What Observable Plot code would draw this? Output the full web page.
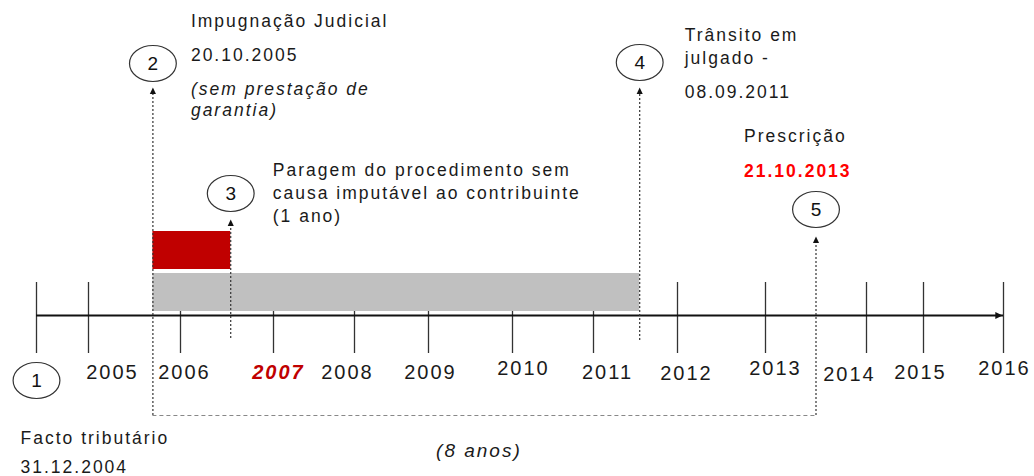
<!DOCTYPE html>
<html>
<head>
<meta charset="utf-8">
<script src="https://cdn.jsdelivr.net/npm/d3@7"></script>
<script src="https://cdn.jsdelivr.net/npm/@observablehq/plot@0.6"></script>
<style>
  html, body { margin: 0; padding: 0; background: #fff; }
  #chart svg { display: block; }
</style>
</head>
<body>
<div id="chart"></div>
<script>
// ---------------- data ----------------
const tickYears  = [2004, 2005, 2006, 2007, 2008, 2009, 2010, 2011, 2012, 2013, 2014, 2015, 2016];
const tickLabels = ["", "2005", "2006", "2007", "2008", "2009", "2010", "2011", "2012", "2013", "2014", "2015", "2016"];
const highlightLabel = "2007";

const eventNumbers = ["1", "2", "3", "4", "5"];
const eventYears   = [2004, 2005.7, 2006.54, 2011.55, 2013.5];

const periodNames = ["Processo judicial", "Paragem (1 ano)"];
const periodStart = [2005.7, 2005.7];
const periodEnd   = [2011.55, 2006.54];

const noteTexts = [
  "Facto tributário", "31.12.2004",
  "Impugnação Judicial", "20.10.2005", "(sem prestação de", "garantia)",
  "Paragem do procedimento sem", "causa imputável ao contribuinte", "(1 ano)",
  "Trânsito em", "julgado -", "08.09.2011",
  "Prescrição", "21.10.2013"
];
const noteEvent = [0, 0, 1, 1, 1, 1, 2, 2, 2, 3, 3, 3, 4, 4];
const noteKind  = ["n", "n", "n", "n", "i", "i", "n", "n", "n", "n", "n", "n", "n", "b"];
const spanLabel = "(8 anos)";

// ---------------- layout (picture's uneven axis & placement) ----------------
const tickPx     = [36, 88, 180, 273, 354, 428, 512, 593, 677, 765, 866, 923, 1003];
const labelDx    = [0, 24, 4, 5, -7, 2, 11, 14, 9, 10, -17, -3, 1];
const labelDy    = [0, 0, 0, 0, 0, 0, -4, 0, 1, -4, 2, 0, -4];
const circleY    = [-65, 252, 122, 253, 106];
const arrowTipY  = [null, 228, 96, 228, 79];
const dashBottom = [null, -100, -23, -25, -100];
const eventDx    = [-16, 38, 42, 45, -72];
const noteY      = [-128, -157, 289, 255, 221, 200, 140, 117, 94, 275, 252, 218, 174, 139];
const periodBand = [[4, 42], [46, 84]];
const periodFill = ["#c0c0c0", "#c00000"];

// ---------------- symbols ----------------
const ellipse = {
  draw(ctx, size) {
    const r = Math.sqrt(size / Math.PI), a = r * 1.3, b = r, k = 0.5523;
    ctx.moveTo(a, 0);
    ctx.bezierCurveTo(a, k * b, k * a, b, 0, b);
    ctx.bezierCurveTo(-k * a, b, -a, k * b, -a, 0);
    ctx.bezierCurveTo(-a, -k * b, -k * a, -b, 0, -b);
    ctx.bezierCurveTo(k * a, -b, a, -k * b, a, 0);
    ctx.closePath();
  }
};
const upHead = {
  draw(ctx, size) {
    const r = Math.sqrt(size / Math.PI);
    ctx.moveTo(0, 0); ctx.lineTo(r * 0.85, r * 1.8); ctx.lineTo(-r * 0.85, r * 1.8); ctx.closePath();
  }
};
const rightHead = {
  draw(ctx, size) {
    const r = Math.sqrt(size / Math.PI);
    ctx.moveTo(0, 0); ctx.lineTo(-r * 1.8, -r * 0.85); ctx.lineTo(-r * 1.8, r * 0.85); ctx.closePath();
  }
};

const kinds = {
  n: {fontStyle: "normal", fontWeight: "normal", fill: "#1a1a1a"},
  i: {fontStyle: "italic", fontWeight: "normal", fill: "#1a1a1a"},
  b: {fontStyle: "normal", fontWeight: "bold", fill: "#ff0000"}
};

// ---------------- marks ----------------
const idx = (arr) => arr.map((_, i) => i);
const marks = [];

// year ticks (under the bars)
marks.push(Plot.ruleX(tickYears, {x: d => d, y1: -38, y2: 33, stroke: "#333", strokeWidth: 1.3}));

// periods
marks.push(Plot.rect(idx(periodNames), {
  x1: i => periodStart[i], x2: i => periodEnd[i],
  y1: i => periodBand[i][0], y2: i => periodBand[i][1],
  fill: i => periodFill[i]
}));

// axis line + arrow head
marks.push(Plot.ruleY([0], {x1: tickYears[0], x2: tickYears[tickYears.length - 1], stroke: "#111", strokeWidth: 2}));
marks.push(Plot.dot([tickYears[tickYears.length - 1]], {x: d => d, y: 0, dx: -1, symbol: rightHead, r: 4, fill: "#111", stroke: "none"}));

// 8-year bracket (dashed)
marks.push(Plot.ruleY([-100], {x1: eventYears[1], x2: eventYears[4], stroke: "#888", strokeWidth: 1.2, strokeDasharray: "4,3"}));

// dotted verticals with arrow heads
const arrowEvents = [1, 2, 3, 4];
marks.push(Plot.ruleX(arrowEvents, {
  x: e => eventYears[e], y1: e => dashBottom[e], y2: e => arrowTipY[e] - 5,
  stroke: "#333", strokeWidth: 1.2, strokeDasharray: "2,2"
}));
marks.push(Plot.dot(arrowEvents, {
  x: e => eventYears[e], y: e => arrowTipY[e], symbol: upHead, r: 3.6, fill: "#111", stroke: "none"
}));

// numbered ellipses
marks.push(Plot.dot(eventNumbers, {
  x: (d, i) => eventYears[i], y: (d, i) => circleY[i], r: 18, symbol: ellipse,
  fill: "white", stroke: "#333", strokeWidth: 1.2
}));
marks.push(Plot.text(eventNumbers, {
  x: (d, i) => eventYears[i], y: (d, i) => circleY[i], text: d => d, dx: 1,
  fontSize: 19, fill: "#111", lineAnchor: "middle"
}));

// year labels
tickLabels.forEach((t, i) => {
  if (!t) return;
  const hi = t === highlightLabel;
  marks.push(Plot.text([t], {
    x: () => tickYears[i], y: -57, text: d => d, dx: labelDx[i], dy: labelDy[i],
    fontSize: 20, lineAnchor: "middle", textAnchor: "middle",
    fill: hi ? "#c00000" : "#1a1a1a",
    fontWeight: hi ? "bold" : "normal",
    fontStyle: hi ? "italic" : "normal"
  }));
});

// event notes
eventNumbers.forEach((_, e) => {
  Object.keys(kinds).forEach(k => {
    const rows = idx(noteTexts).filter(i => noteEvent[i] === e && noteKind[i] === k);
    if (!rows.length) return;
    marks.push(Plot.text(rows, {
      x: () => eventYears[e], y: i => noteY[i], text: i => noteTexts[i], dx: eventDx[e],
      textAnchor: "start", lineAnchor: "bottom", fontSize: 17.5, ...kinds[k]
    }));
  });
});

// "(8 anos)"
marks.push(Plot.text([spanLabel], {
  x: () => (eventYears[1] + eventYears[4]) / 2, y: -141, text: d => d,
  textAnchor: "middle", lineAnchor: "bottom", fontSize: 19, fontStyle: "italic", fill: "#1a1a1a"
}));

const chart = Plot.plot({
  width: 1034,
  height: 476,
  margin: 0,
  style: {fontFamily: "'Liberation Sans', Arial, sans-serif", letterSpacing: "2px", background: "#fff", color: "#1a1a1a"},
  x: {type: "linear", domain: tickYears, range: tickPx, axis: null},
  y: {type: "linear", domain: [-161, 315], range: [476, 0], axis: null},
  marks
});
document.getElementById("chart").appendChild(chart);
</script>
</body>
</html>
